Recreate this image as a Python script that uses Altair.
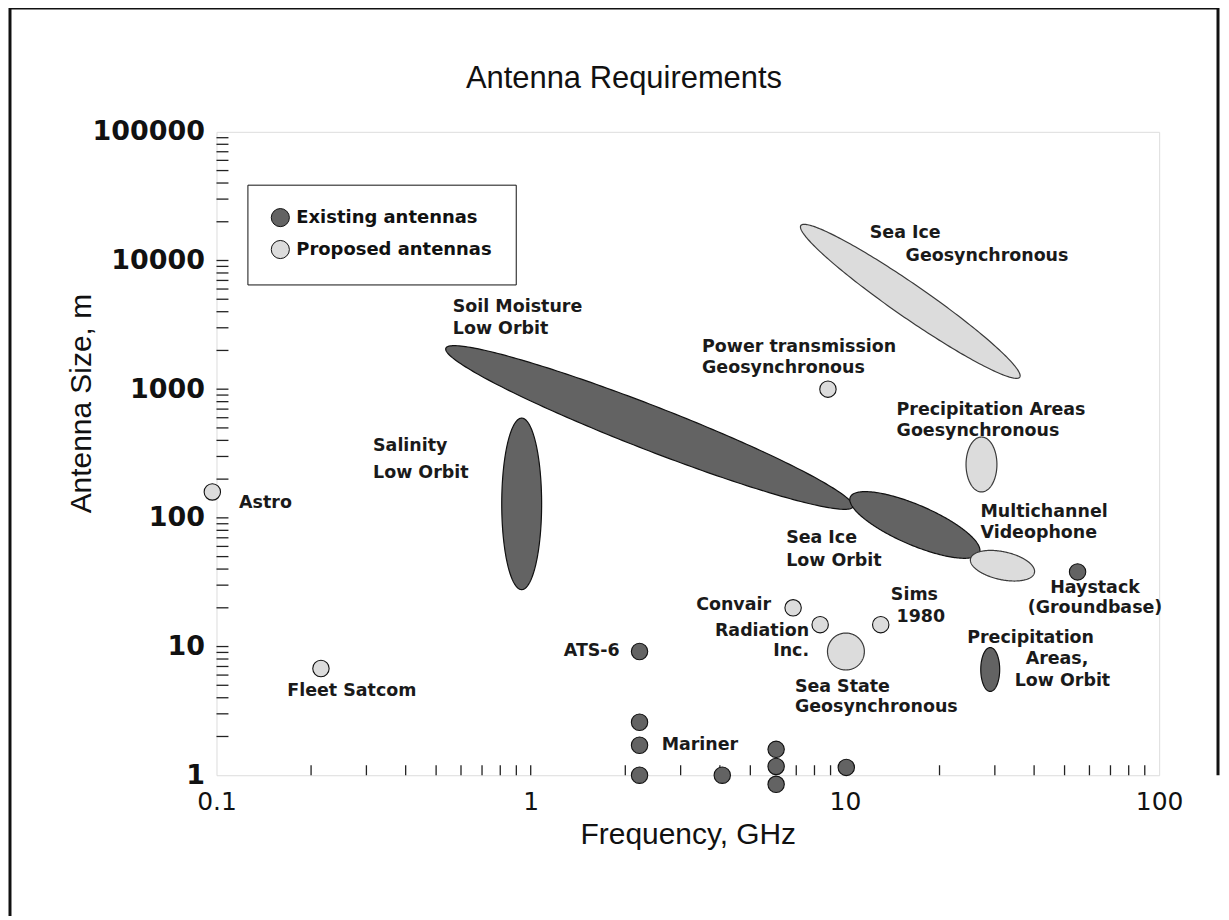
import math
import altair as alt
import pandas as pd

# ---------------- layout ----------------
W, H = 945, 645            # plot area (3 decades in x, 5 decades in y)
K = (W / 3) / (H / 5)      # screen aspect between one x-decade and one y-decade

EXISTING = "Existing antennas"
PROPOSED = "Proposed antennas"
DARK = "#636363"
LIGHT = "#dcdcdc"

# ---------------- data: single antennas (circles) ----------------
pt_freq = [2.22, 2.22, 2.22, 2.22, 4.07, 6.04, 6.04, 6.04, 10.1, 55.0,
           0.097, 0.215, 8.83, 6.84, 8.34, 13.0]
pt_size = [9.15, 2.58, 1.71, 1.0, 1.0, 1.59, 1.17, 0.85, 1.15, 38.0,
           159.0, 6.75, 1000.0, 20.0, 14.8, 14.8]
pt_type = [EXISTING] * 10 + [PROPOSED] * 6

# ---------------- data: ranges (ellipses) ----------------
el_name = ["Soil Moisture", "Salinity", "Sea Ice LO", "Videophone",
           "Precip Geo", "Precip LO", "Sea Ice Geo", "Sea State"]
el_type = [EXISTING, EXISTING, EXISTING, PROPOSED,
           PROPOSED, EXISTING, PROPOSED, PROPOSED]
el_f1 = [0.537, 0.936, 10.4, 25.1, 27.2, 29.0, 7.24, 8.80]
el_s1 = [2080.0, 596.0, 145.0, 48.1, 425.0, 9.82, 18700.0, 9.15]
el_f2 = [10.6, 0.936, 26.8, 40.1, 27.2, 29.0, 36.0, 11.53]
el_s2 = [122.0, 27.7, 53.5, 37.5, 159.0, 4.48, 1240.0, 9.15]
el_width = [0.341, 0.31, 0.31, 0.217, 0.24, 0.147, 0.256, 0.287]  # in size-decades
el_vertical = [False, True, False, False, True, True, False, False]

# ---------------- data: annotations ----------------
lbl_text = ["Astro", "Fleet Satcom", "Salinity", "Low Orbit", "Soil Moisture", "Low Orbit",
            "Power transmission", "Geosynchronous", "Sea Ice", "Geosynchronous",
            "Precipitation Areas", "Goesynchronous", "Multichannel", "Videophone",
            "Sea Ice", "Low Orbit", "Haystack", "(Groundbase)", "Precipitation", "Areas,",
            "Low Orbit", "Convair", "Radiation", "Inc.", "Sims", "1980", "Sea State",
            "Geosynchronous", "ATS-6", "Mariner"]
lbl_x = [0.118, 0.168, 0.315, 0.315, 0.565, 0.565,
         3.51, 3.51, 12.0, 15.6,
         14.6, 14.6, 27.0, 27.0,
         6.50, 6.50, 62.5, 62.5, 24.5, 37.6,
         34.7, 5.82, 7.69, 7.69, 14.0, 14.6, 6.93,
         6.93, 1.92, 2.61]
lbl_y = [131, 4.48, 361, 223, 4323, 2918,
         2117, 1455, 16480, 10930,
         688, 472, 111, 76.5,
         70.0, 46.4, 28.7, 20.1, 11.7, 8.07,
         5.35, 21.2, 13.3, 9.15, 25.3, 17.1, 4.81,
         3.37, 9.15, 1.71]
lbl_align = ["left", "left", "left", "left", "left", "left",
             "left", "left", "left", "left",
             "left", "left", "left", "left",
             "left", "left", "center", "center", "left", "left",
             "left", "right", "right", "right", "left", "left", "left",
             "left", "right", "left"]

legend_order = [EXISTING, PROPOSED]
x_tick_vals = [m * 10 ** e for e in (-1, 0, 1) for m in range(2, 10)] + [1, 10]
y_tick_vals = [m * 10 ** e for e in range(0, 5) for m in range(2, 10)] + [10, 100, 1000, 10000]


# ---------------- ellipse outlines (upper/lower boundary along the long axis) ----------------
def ellipse_rows(name, typ, f1, s1, f2, s2, width, vertical, n=120):
    u1, v1 = math.log10(f1) * K, math.log10(s1)
    u2, v2 = math.log10(f2) * K, math.log10(s2)
    if vertical:
        p1, q1, p2, q2 = v1, u1, v2, u2
    else:
        p1, q1, p2, q2 = u1, v1, u2, v2
    cp, cq = (p1 + p2) / 2, (q1 + q2) / 2
    a = max(math.hypot(p2 - p1, q2 - q1) / 2, 1e-9)
    b = width / 2
    th = math.atan2(q2 - q1, p2 - p1)
    c, s = math.cos(th), math.sin(th)
    ext = math.sqrt(a * a * c * c + b * b * s * s)
    A = s * s / (a * a) + c * c / (b * b)
    rows = []
    for i in range(n + 1):
        d = -ext * math.cos(math.pi * i / n)
        B = 2 * d * s * c * (1 / (a * a) - 1 / (b * b))
        C = d * d * (c * c / (a * a) + s * s / (b * b)) - 1
        disc = max(B * B - 4 * A * C, 0.0)
        w1 = (-B - math.sqrt(disc)) / (2 * A)
        w2 = (-B + math.sqrt(disc)) / (2 * A)
        p, qlo, qhi = cp + d, cq + w1, cq + w2
        if vertical:
            rows.append(dict(name=name, type=typ, y=10 ** p,
                             xlo=10 ** (qlo / K), xhi=10 ** (qhi / K)))
        else:
            rows.append(dict(name=name, type=typ, x=10 ** (p / K),
                             ylo=10 ** qlo, yhi=10 ** qhi))
    return rows


rows_h, rows_v = [], []
for i in range(len(el_name)):
    r = ellipse_rows(el_name[i], el_type[i], el_f1[i], el_s1[i], el_f2[i], el_s2[i],
                     el_width[i], el_vertical[i])
    (rows_v if el_vertical[i] else rows_h).extend(r)
df_h = pd.DataFrame(rows_h)
df_v = pd.DataFrame(rows_v)

df_pts = pd.DataFrame(dict(freq=pt_freq, size=pt_size, type=pt_type))
df_lbl = pd.DataFrame(dict(text=lbl_text, x=lbl_x, y=lbl_y, align=lbl_align))
df_xt = pd.DataFrame(dict(v=x_tick_vals))
df_yt = pd.DataFrame(dict(v=y_tick_vals))
df_one = pd.DataFrame(dict(a=[0]))

# ---------------- scales / axes ----------------
x_scale = alt.Scale(type="log", domain=[0.1, 100], nice=False)
y_scale = alt.Scale(type="log", domain=[1, 100000], nice=False)

AX_X = alt.Axis(values=[0.1, 1, 10, 100], format="~g", ticks=False, domain=False, grid=False,
                labelFont="DejaVu Sans", labelFontSize=25, labelFontWeight="normal",
                labelColor="#111", labelPadding=14, labelFlush=False, labelOverlap=False,
                title="Frequency, GHz", titleFont="Liberation Sans", titleFontSize=30,
                titleFontWeight="normal", titleColor="#111", titleBaseline="alphabetic",
                titleY=68)
AX_Y = alt.Axis(values=[1, 10, 100, 1000, 10000, 100000], format="~g", ticks=False,
                domain=False, grid=False,
                labelFont="DejaVu Sans", labelFontSize=27, labelFontWeight="bold",
                labelColor="#111", labelPadding=12, labelFlush=False, labelOverlap=False,
                title="Antenna Size, m", titleFont="Liberation Sans", titleFontSize=30,
                titleFontWeight="normal", titleColor="#111", titleBaseline="middle",
                titleAlign="center", titleX=-135, titleY=272)


def X(f):
    return alt.X(f, type="quantitative", scale=x_scale, axis=AX_X)


def Y(f):
    return alt.Y(f, type="quantitative", scale=y_scale, axis=AX_Y)


fill_cond = alt.condition(f"datum.type == '{EXISTING}'", alt.value(DARK), alt.value(LIGHT))
stroke_cond = alt.condition(f"datum.type == '{EXISTING}'", alt.value("#111111"), alt.value("#3a3a3a"))

# ---------------- layers ----------------
x_ticks = alt.Chart(df_xt).mark_rule(color="#222", strokeWidth=1.3).encode(
    x=X("v"), y=alt.value(H), y2=alt.value(H - 10))
y_ticks = alt.Chart(df_yt).mark_rule(color="#222", strokeWidth=1.3).encode(
    y=Y("v"), x=alt.value(0), x2=alt.value(12))

ell_h = alt.Chart(df_h).mark_area(orient="vertical", strokeWidth=1.2, opacity=1).encode(
    x=X("x"), y=Y("ylo"), y2="yhi:Q", detail="name:N", fill=fill_cond, stroke=stroke_cond)
ell_v = alt.Chart(df_v).mark_area(orient="horizontal", strokeWidth=1.2, opacity=1).encode(
    y=Y("y"), x=X("xlo"), x2="xhi:Q", detail="name:N", fill=fill_cond, stroke=stroke_cond)

points = alt.Chart(df_pts).mark_circle(size=270, opacity=1, stroke="#111", strokeWidth=1.1).encode(
    x=X("freq"), y=Y("size"),
    fill=alt.Fill("type:N", scale=alt.Scale(domain=legend_order, range=[DARK, LIGHT]),
                  legend=alt.Legend(title=None, orient="none", legendX=31, legendY=53,
                                    padding=23, rowPadding=8, labelOffset=6,
                                    symbolType="circle", symbolSize=330,
                                    symbolStrokeColor="#111", symbolStrokeWidth=1,
                                    symbolOpacity=1, strokeColor="#111", fillColor="white",
                                    labelFont="DejaVu Sans", labelFontSize=18,
                                    labelFontWeight="bold", labelColor="#111", labelLimit=400)))


def text_layer(align):
    d = df_lbl[df_lbl["align"] == align]
    return alt.Chart(d).mark_text(align=align, baseline="middle", font="DejaVu Sans",
                                  fontSize=17.5, fontWeight="bold", color="#1a1a1a").encode(
        x=X("x"), y=Y("y"), text="text:N")


frame_style = dict(color="#111", strokeWidth=3)
frame_left = alt.Chart(df_one).mark_rule(**frame_style).encode(
    x=alt.value(-207), y=alt.value(-125), y2=alt.value(H + 150))
frame_top = alt.Chart(df_one).mark_rule(**frame_style).encode(
    x=alt.value(-208), x2=alt.value(W + 60), y=alt.value(-124))
frame_right = alt.Chart(df_one).mark_rule(**frame_style).encode(
    x=alt.value(W + 59), y=alt.value(-125), y2=alt.value(H))

chart = alt.layer(
    frame_left, frame_top, frame_right,
    x_ticks, y_ticks, ell_h, ell_v, points,
    text_layer("left"), text_layer("right"), text_layer("center"),
).properties(
    width=W, height=H,
    title=alt.TitleParams(text="Antenna Requirements", font="Liberation Sans", fontSize=31,
                          fontWeight="normal", color="#111", anchor="middle", frame="group",
                          dx=-64, dy=114, offset=0, baseline="alphabetic"),
    padding={"left": 209, "top": 123, "right": 62, "bottom": 140},
    autosize=alt.AutoSizeParams(type="none"),
).configure_view(stroke="#111", strokeWidth=1.5).configure(background="white")

chart.save("out.html", embed_options={"renderer": "svg", "actions": False})
